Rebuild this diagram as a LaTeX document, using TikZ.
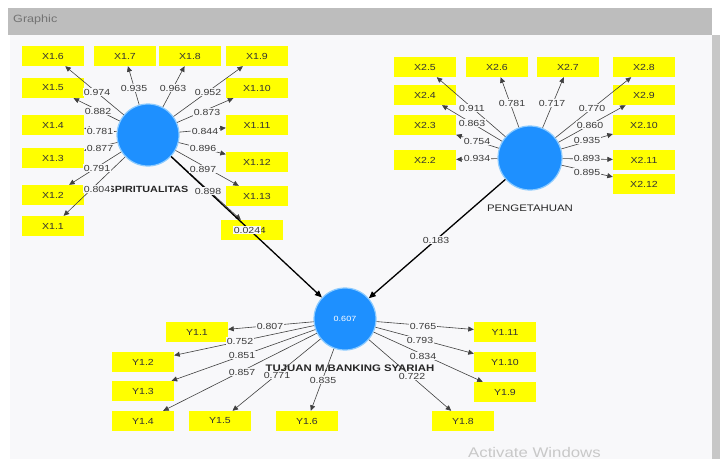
\documentclass[tikz,border=0pt]{standalone}
\usepackage{fontspec}
\setmainfont{Liberation Sans}[FakeStretch=1.2]
\usetikzlibrary{arrows.meta}
\definecolor{panel}{HTML}{F8F8FA}
\definecolor{hdr}{HTML}{BDBDBD}
\definecolor{ind}{HTML}{FFFF00}
\definecolor{lv}{HTML}{1E90FF}
\definecolor{lvring}{HTML}{8CCBFF}
\definecolor{lbl}{HTML}{3A3A3A}
\definecolor{wm}{HTML}{C8C8C8}
\tikzset{
 indbox/.style={fill=ind, minimum width=62pt, minimum height=20pt, inner sep=0pt, font=\fontsize{8.8}{10}\selectfont, text=black!80},
 lvcirc/.style={circle, fill=lv, draw=lvring, line width=1.2pt, minimum size=62pt, inner sep=0pt, text=white, font=\fontsize{7.5}{9}\selectfont},
 load/.style={draw=black!75, line width=0.6pt, -{Triangle[length=5.5pt,width=5pt]}},
 structarrow/.style={draw=black, line width=1.3pt, -{Triangle[length=7pt,width=6pt]}},
 loadlbl/.style={fill=panel, inner sep=0.6pt, text=lbl, font=\fontsize{8.8}{10}\selectfont},
 lvname/.style={fill=panel, inner sep=0.3pt, text=black!85, font=\bfseries\fontsize{9}{10}\selectfont},
}
\begin{document}
\begin{tikzpicture}[x=1pt,y=-1pt]
\useasboundingbox (0,0) rectangle (720,459);
\clip (0,0) rectangle (720,459);
\fill[white] (0,0) rectangle (720,459);
\fill[hdr] (8,8) rectangle (712,35);
\fill[panel] (10,35) rectangle (712,459);
\fill[black!22] (712,35) rectangle (720,459);
\node[anchor=west, inner sep=0pt, text=black!55, font=\fontsize{10.5}{12}\selectfont] (title) at (13,20) {Graphic};
\node[anchor=base west, inner sep=0pt, text=wm, font=\fontsize{14}{16}\selectfont] (wmark) at (468,457) {Activate Windows};

% indicator boxes X1
\node[indbox] (X16) at (53,56) {X1.6};
\node[indbox] (X17) at (125,56) {X1.7};
\node[indbox] (X18) at (190,56) {X1.8};
\node[indbox] (X19) at (257,56) {X1.9};
\node[indbox] (X15) at (53,88) {X1.5};
\node[indbox] (X110) at (257,88) {X1.10};
\node[indbox] (X14) at (53,125) {X1.4};
\node[indbox] (X111) at (257,125) {X1.11};
\node[indbox] (X13) at (53,158) {X1.3};
\node[indbox] (X112) at (257,162) {X1.12};
\node[indbox] (X12) at (53,195) {X1.2};
\node[indbox] (X113) at (257,196) {X1.13};
\node[indbox] (X11) at (53,226) {X1.1};
\node[indbox] (X114) at (252,230) {X1.14};
% indicator boxes X2
\node[indbox] (X25) at (425,67) {X2.5};
\node[indbox] (X26) at (497,67) {X2.6};
\node[indbox] (X27) at (568,67) {X2.7};
\node[indbox] (X28) at (644,67) {X2.8};
\node[indbox] (X24) at (425,95) {X2.4};
\node[indbox] (X29) at (644,95) {X2.9};
\node[indbox] (X23) at (425,125) {X2.3};
\node[indbox] (X210) at (644,125) {X2.10};
\node[indbox] (X22) at (425,160) {X2.2};
\node[indbox] (X211) at (644,160) {X2.11};
\node[indbox] (X212) at (644,184) {X2.12};
% indicator boxes Y1
\node[indbox] (Y11) at (197,332) {Y1.1};
\node[indbox] (Y12) at (143,362) {Y1.2};
\node[indbox] (Y13) at (143,391) {Y1.3};
\node[indbox] (Y14) at (143,421) {Y1.4};
\node[indbox] (Y15) at (220,421) {Y1.5};
\node[indbox] (Y16) at (307,421) {Y1.6};
\node[indbox] (Y111) at (505,332) {Y1.11};
\node[indbox] (Y110) at (505,362) {Y1.10};
\node[indbox] (Y19) at (505,392) {Y1.9};
\node[indbox] (Y18) at (463,421) {Y1.8};

% latent variables
\node[lvcirc] (S) at (148,135) {};
\node[lvcirc, minimum size=64pt] (P) at (530,158) {};
\node[lvcirc] (T) at (345,319) {0.607};

% names
\node[lvname] (Sname) at (148,189) {SPIRITUALITAS};
\node[lvname, font=\fontsize{9.5}{11}\selectfont] (Pname) at (530,208) {PENGETAHUAN};
\node[lvname, font=\bfseries\fontsize{9.5}{11}\selectfont] (Tname) at (350,368) {TUJUAN M.BANKING SYARIAH};

% loading arrows
\foreach \n in {X16,X17,X18,X19,X15,X110,X14,X111,X13,X112,X12,X113,X11,X114}
  \draw[load] (S) -- (\n);
\foreach \n in {X25,X26,X27,X28,X24,X29,X23,X210,X22,X211,X212}
  \draw[load] (P) -- (\n);
\foreach \n in {Y11,Y12,Y13,Y14,Y15,Y16,Y111,Y110,Y19,Y18}
  \draw[load] (T) -- (\n);

% structural paths
\draw[structarrow] (S) -- (T);
\draw[structarrow] (P) -- (T);

% loading labels
\node[loadlbl] (l16) at (97,92) {0.974};
\node[loadlbl] (l17) at (134,88) {0.935};
\node[loadlbl] (l18) at (173,88) {0.963};
\node[loadlbl] (l19) at (208,92) {0.952};
\node[loadlbl] (l15) at (98,111) {0.882};
\node[loadlbl] (l110) at (207,112) {0.873};
\node[loadlbl] (l14) at (100,131) {0.781};
\node[loadlbl] (l111) at (205,131) {0.844};
\node[loadlbl] (l13) at (100,148) {0.877};
\node[loadlbl] (l112) at (203,148) {0.896};
\node[loadlbl] (l12) at (97,168) {0.791};
\node[loadlbl] (l113) at (203,169) {0.897};
\node[loadlbl] (l11) at (97,189) {0.804};
\node[loadlbl] (l114) at (208,191) {0.898};

\node[loadlbl] (l25) at (472,108) {0.911};
\node[loadlbl] (l26) at (512,103) {0.781};
\node[loadlbl] (l27) at (552,103) {0.717};
\node[loadlbl] (l28) at (592,108) {0.770};
\node[loadlbl] (l24) at (472,123) {0.863};
\node[loadlbl] (l29) at (590,125) {0.860};
\node[loadlbl] (l23) at (477,141) {0.754};
\node[loadlbl] (l210) at (587,140) {0.935};
\node[loadlbl] (l22) at (477,158) {0.934};
\node[loadlbl] (l211) at (587,158) {0.893};
\node[loadlbl] (l212) at (587,172) {0.895};

\node[loadlbl] (m11) at (270,326) {0.807};
\node[loadlbl] (m12) at (240,341) {0.752};
\node[loadlbl] (m13) at (242,355) {0.851};
\node[loadlbl] (m14) at (242,372) {0.857};
\node[loadlbl] (m15) at (277,375) {0.771};
\node[loadlbl] (m16) at (323,380) {0.835};
\node[loadlbl] (m111) at (423,326) {0.765};
\node[loadlbl] (m110) at (420,340) {0.793};
\node[loadlbl] (m19) at (423,356) {0.834};
\node[loadlbl] (m18) at (412,376) {0.722};

% path coefficients
\node[loadlbl] (pS) at (247,230) {0.024};
\node[loadlbl] (pP) at (436,240) {0.183};
\end{tikzpicture}
\end{document}
